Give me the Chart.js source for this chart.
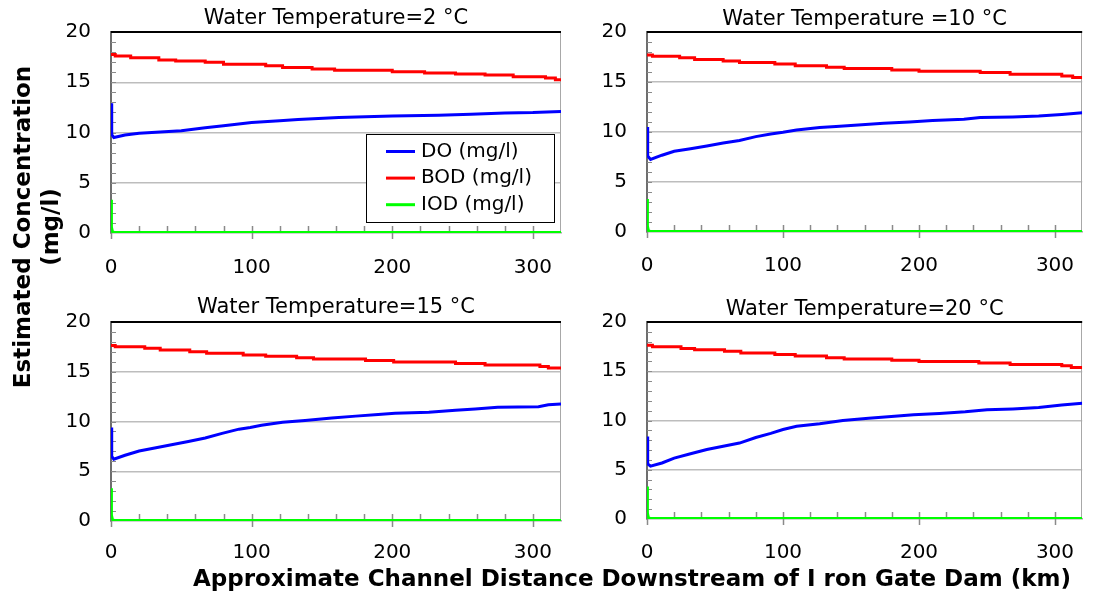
<!DOCTYPE html>
<html>
<head>
<meta charset="utf-8">
<script src="https://cdn.jsdelivr.net/npm/chart.js@4.4.0/dist/chart.umd.min.js"></script>
<style>
  html, body { margin: 0; padding: 0; background: #fff; }
  #page { position: relative; width: 1097px; height: 594px; overflow: hidden; font-family: "DejaVu Sans", sans-serif; }
  #page canvas { position: absolute; }
  .axis-title { position: absolute; font-weight: bold; font-size: 23px; line-height: 28px; color: #000; text-align: center; white-space: nowrap; }
  #ytitle { left: -184px; top: 199px; width: 440px; height: 56px; transform: rotate(-90deg); }
  #xtitle { left: 132px; top: 564px; width: 1000px; height: 28px; }
</style>
</head>
<body>
<div id="page">
  <canvas id="panel2"></canvas>
  <canvas id="panel10"></canvas>
  <canvas id="panel15"></canvas>
  <canvas id="panel20"></canvas>
  <div class="axis-title" id="ytitle">Estimated Concentration<br>(mg/l)</div>
  <div class="axis-title" id="xtitle">Approximate Channel Distance Downstream of I ron Gate Dam (km)</div>
</div>
<script>
// ---- axis ticks and labels ----
const xTickValues = [0, 100, 200, 300];
const yTickValues = [0, 5, 10, 15, 20];
const seriesLabels = ['DO (mg/l)', 'BOD (mg/l)', 'IOD (mg/l)'];
const panelTitles = ['Water Temperature=2 °C', 'Water Temperature =10 °C', 'Water Temperature=15 °C', 'Water Temperature=20 °C'];

// ---- water temperature 2 °C ----
const do2Km  = [0, 0.5, 2, 10, 20, 35, 50, 67, 80, 100, 120, 133, 162, 200, 233, 256, 280, 300, 320];
const do2    = [12.9, 9.8, 9.5, 9.75, 9.92, 10.05, 10.18, 10.47, 10.67, 11.0, 11.16, 11.29, 11.49, 11.65, 11.72, 11.82, 11.95, 11.98, 12.1];
const bod2Km = [0, 3, 14, 34, 46, 67, 80, 110, 122, 143, 159, 200, 223, 245, 266, 286, 309, 316, 320];
const bod2   = [17.77, 17.6, 17.45, 17.22, 17.12, 16.99, 16.79, 16.63, 16.46, 16.33, 16.2, 16.04, 15.91, 15.81, 15.71, 15.55, 15.43, 15.25, 15.25];

// ---- water temperature 10 °C ----
const do10Km  = [0, 0.5, 2.6, 11, 20, 32, 44, 56, 68, 80, 91, 100, 110, 127, 139, 158, 174, 193, 210, 233, 245, 269, 288, 305, 320];
const do10    = [10.5, 7.6, 7.25, 7.68, 8.07, 8.33, 8.6, 8.89, 9.15, 9.54, 9.8, 9.97, 10.2, 10.46, 10.56, 10.72, 10.88, 11.01, 11.14, 11.27, 11.44, 11.5, 11.6, 11.76, 11.93];
const bod10Km = [0, 4, 24, 35, 56, 68, 94, 109, 132, 145, 180, 200, 245, 267, 305, 313, 320];
const bod10   = [17.71, 17.58, 17.42, 17.25, 17.09, 16.96, 16.8, 16.63, 16.47, 16.34, 16.21, 16.08, 15.95, 15.78, 15.59, 15.46, 15.46];

// ---- water temperature 15 °C ----
const do15Km  = [0, 0.5, 2, 10, 20, 32, 43, 55, 67, 79, 91, 99, 107, 122, 138, 157, 174, 190, 202, 226, 245, 259, 275, 304, 311, 320];
const do15    = [9.4, 6.5, 6.22, 6.61, 7.04, 7.36, 7.66, 7.99, 8.35, 8.81, 9.23, 9.39, 9.62, 9.92, 10.11, 10.34, 10.54, 10.7, 10.83, 10.93, 11.13, 11.26, 11.42, 11.49, 11.69, 11.75];
const bod15Km = [0, 3, 24, 35, 56, 68, 94, 110, 132, 144, 181, 201, 245, 266, 305, 311, 320];
const bod15   = [17.64, 17.51, 17.35, 17.18, 17.02, 16.86, 16.69, 16.56, 16.4, 16.27, 16.14, 15.97, 15.84, 15.68, 15.52, 15.38, 15.38];

// ---- water temperature 20 °C ----
const do20Km  = [0, 0.5, 2.6, 11, 20, 32, 44, 56, 68, 80, 91, 100, 110, 127, 144, 163, 182, 196, 215, 234, 250, 269, 288, 305, 320];
const do20    = [8.37, 5.6, 5.36, 5.69, 6.18, 6.63, 7.06, 7.39, 7.71, 8.27, 8.69, 9.08, 9.41, 9.67, 10.0, 10.23, 10.42, 10.59, 10.72, 10.88, 11.08, 11.18, 11.31, 11.57, 11.76];
const bod20Km = [0, 4, 25, 35, 57, 69, 94, 109, 132, 145, 180, 200, 244, 267, 305, 312, 320];
const bod20   = [17.65, 17.48, 17.32, 17.19, 17.03, 16.86, 16.7, 16.54, 16.37, 16.24, 16.11, 15.98, 15.85, 15.69, 15.56, 15.39, 15.39];

// ---- IOD is the same in every panel ----
const iodKm = [0, 0.3, 1, 2.5, 320];
const iod   = [3.3, 0.6, 0.15, 0.05, 0.05];

const FONT = '"DejaVu Sans", Verdana, sans-serif';
const X_MAX = 320, Y_MAX = 20, X_MINOR = 20, Y_MINOR = 1;

Chart.defaults.color = '#000';
Chart.defaults.font.family = FONT;

const toPoints = (xs, ys) => xs.map((x, i) => ({ x, y: ys[i] }));

// plot frame: black top edge, grey right edge, small inside tick marks
const panelFrame = {
  id: 'panelFrame',
  beforeDatasetsDraw(chart) {
    const { ctx, chartArea: a, scales: { x, y } } = chart;
    ctx.save();
    ctx.strokeStyle = '#8a8a8a';
    ctx.lineWidth = 1;
    for (let v = Y_MINOR; v < Y_MAX; v += Y_MINOR) {
      const py = Math.round(y.getPixelForValue(v)) + 0.5;
      ctx.beginPath(); ctx.moveTo(a.left, py); ctx.lineTo(a.left + 5, py); ctx.stroke();
    }
    ctx.lineWidth = 1.5;
    for (let v = 0; v < X_MAX; v += X_MINOR) {
      const px = Math.round(x.getPixelForValue(v)) + 0.5;
      const major = v % 100 === 0;
      ctx.beginPath(); ctx.moveTo(px, a.bottom - 7); ctx.lineTo(px, major ? a.bottom + 6 : a.bottom); ctx.stroke();
    }
    ctx.strokeStyle = '#a8a8a8';
    ctx.lineWidth = 1;
    ctx.beginPath(); ctx.moveTo(Math.round(a.right) - 0.5, a.top); ctx.lineTo(Math.round(a.right) - 0.5, a.bottom); ctx.stroke();
    ctx.strokeStyle = '#000';
    ctx.lineWidth = 2;
    ctx.beginPath(); ctx.moveTo(a.left, a.top); ctx.lineTo(a.right, a.top); ctx.stroke();
    ctx.restore();
  }
};

// boxed legend placed inside the plot area
const insetLegend = {
  id: 'insetLegend',
  afterDraw(chart, args, opts) {
    const { ctx, chartArea: a } = chart;
    const left = a.left + opts.offsetX, top = a.top + opts.offsetY;
    ctx.save();
    ctx.fillStyle = '#fff';
    ctx.fillRect(left, top, opts.width, opts.height);
    ctx.strokeStyle = '#000';
    ctx.lineWidth = 1;
    ctx.strokeRect(left + 0.5, top + 0.5, opts.width, opts.height);
    ctx.font = '20px ' + FONT;
    ctx.textBaseline = 'middle';
    ctx.textAlign = 'left';
    chart.data.datasets.forEach((ds, i) => {
      const cy = top + opts.firstRow + i * opts.rowGap;
      ctx.strokeStyle = ds.borderColor;
      ctx.lineWidth = 3;
      ctx.beginPath(); ctx.moveTo(left + 20, cy); ctx.lineTo(left + 49, cy); ctx.stroke();
      ctx.fillStyle = '#000';
      ctx.fillText(ds.label, left + 55, cy);
    });
    ctx.restore();
  }
};

const layouts = [
  { id: 'panel2',  left: 0,   top: 0,   width: 580, height: 290, yAxisWidth: 111, padRight: 19, titleTop: 3.5, titleBottom: 1.5, xAxisHeight: 57, xPad: 23 },
  { id: 'panel10', left: 580, top: 0,   width: 517, height: 290, yAxisWidth: 67,  padRight: 1,  titleTop: 3.5, titleBottom: 0.5, xAxisHeight: 58, xPad: 22 },
  { id: 'panel15', left: 0,   top: 290, width: 580, height: 304, yAxisWidth: 111, padRight: 19, titleTop: 0.5, titleBottom: 2.5, xAxisHeight: 73, xPad: 20 },
  { id: 'panel20', left: 580, top: 290, width: 517, height: 304, yAxisWidth: 67,  padRight: 1,  titleTop: 1,   titleBottom: 0,   xAxisHeight: 75, xPad: 22 }
];

const panelSeries = [
  { doKm: do2Km,  doVal: do2,  bodKm: bod2Km,  bodVal: bod2 },
  { doKm: do10Km, doVal: do10, bodKm: bod10Km, bodVal: bod10 },
  { doKm: do15Km, doVal: do15, bodKm: bod15Km, bodVal: bod15 },
  { doKm: do20Km, doVal: do20, bodKm: bod20Km, bodVal: bod20 }
];

layouts.forEach((L, i) => {
  const canvas = document.getElementById(L.id);
  canvas.width = L.width; canvas.height = L.height;
  canvas.style.left = L.left + 'px'; canvas.style.top = L.top + 'px';
  canvas.style.width = L.width + 'px'; canvas.style.height = L.height + 'px';
  const S = panelSeries[i];
  const withLegend = i === 0;

  new Chart(canvas, {
    type: 'line',
    data: {
      datasets: [
        { label: seriesLabels[0], data: toPoints(S.doKm, S.doVal), borderColor: '#0000ff', borderWidth: 3, pointRadius: 0, tension: 0 },
        { label: seriesLabels[1], data: toPoints(S.bodKm, S.bodVal), borderColor: '#ff0000', borderWidth: 3, pointRadius: 0, stepped: 'before' },
        { label: seriesLabels[2], data: toPoints(iodKm, iod), borderColor: '#00ff00', borderWidth: 3, pointRadius: 0, tension: 0 }
      ]
    },
    options: {
      responsive: false,
      animation: false,
      events: [],
      layout: { padding: { left: 0, right: L.padRight, top: 0, bottom: 0 } },
      plugins: {
        legend: { display: false },
        tooltip: { enabled: false },
        title: {
          display: true, text: panelTitles[i], fullSize: false, color: '#000',
          font: { family: FONT, size: 21, weight: 'normal', lineHeight: '24px' },
          padding: { top: L.titleTop, bottom: L.titleBottom }
        },
        insetLegend: { offsetX: 255, offsetY: 102, width: 188, height: 88, firstRow: 17.5, rowGap: 26.6 }
      },
      scales: {
        x: {
          type: 'linear', min: 0, max: X_MAX,
          afterBuildTicks: s => { s.ticks = xTickValues.map(v => ({ value: v })); },
          afterFit: s => { s.height = L.xAxisHeight; },
          grid: { display: false, drawTicks: false },
          border: { display: true, color: '#a6a6a6', width: 1.5 },
          ticks: { padding: L.xPad, font: { family: FONT, size: 20 }, color: '#000', maxRotation: 0, autoSkip: false }
        },
        y: {
          type: 'linear', min: 0, max: Y_MAX,
          afterBuildTicks: s => { s.ticks = yTickValues.map(v => ({ value: v })); },
          afterFit: s => { s.width = L.yAxisWidth; },
          grid: {
            drawTicks: false, lineWidth: 1.5,
            color: c => (c.tick && (c.tick.value === 0 || c.tick.value === Y_MAX)) ? 'rgba(0,0,0,0)' : '#bdbdbd'
          },
          border: { display: true, color: '#6e6e6e', width: 2 },
          ticks: { padding: 20, font: { family: FONT, size: 20 }, color: '#000' }
        }
      }
    },
    plugins: withLegend ? [panelFrame, insetLegend] : [panelFrame]
  });
});
</script>
</body>
</html>
